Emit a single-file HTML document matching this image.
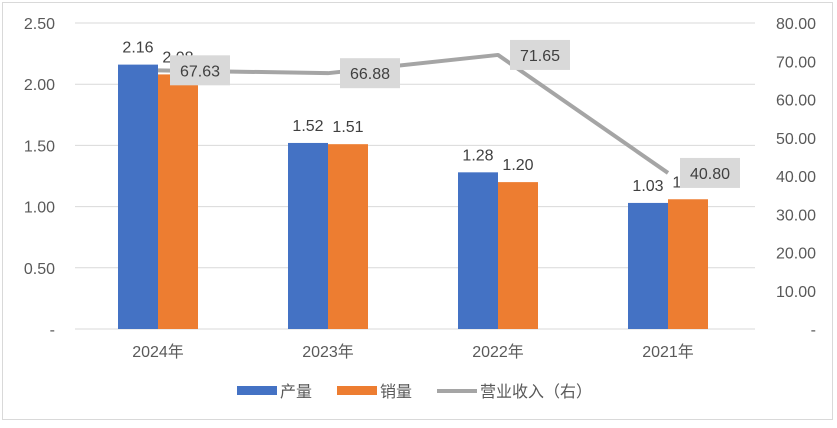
<!DOCTYPE html>
<html><head><meta charset="utf-8"><style>
body{margin:0;background:#fff;font-family:"Liberation Sans","Noto Sans CJK SC",sans-serif}
svg text{font-family:"Liberation Sans","Noto Sans CJK SC",sans-serif;fill:#595959}
</style></head><body>
<svg id="c" width="837" height="423">
<rect x="2.5" y="2.5" width="830" height="417" fill="#fff" stroke="#d9d9d9"/>
</svg>
<script>
const categories=["2024年","2023年","2022年","2021年"];
const production=[2.16,1.52,1.28,1.03];
const sales=[2.08,1.51,1.20,1.06];
const revenue=[67.63,66.88,71.65,40.80];
const leftTicks=[0,0.5,1,1.5,2,2.5];
const rightTicks=[0,10,20,30,40,50,60,70,80];
const svg=document.getElementById('c');
const NS='http://www.w3.org/2000/svg';
const x0=75,x1=755,yTop=23,yBot=329;
const yL=v=>yBot-v/2.5*(yBot-yTop);
const yR=v=>yBot-v/80*(yBot-yTop);
const band=(x1-x0)/categories.length;
const cx=i=>x0+band*(i+0.5)-2;
function mk(t,a,txt){const e=document.createElementNS(NS,t);for(const k in a)e.setAttribute(k,a[k]);if(txt!==undefined)e.textContent=txt;svg.appendChild(e);return e;}
leftTicks.forEach(v=>{
 const g=mk('line',{x1:x0,x2:x1,y1:yL(v),y2:yL(v),stroke:'#d9d9d9','stroke-width':1});
 
 
 const t=mk('text',{x:55,y:yL(v)+6,'text-anchor':'end','font-size':16},v===0?'-':v.toFixed(2));
 
 
});
rightTicks.forEach(v=>{
 const t=mk('text',{x:816,y:yR(v)+6,'text-anchor':'end','font-size':16},v===0?'-':v.toFixed(2));
 
 
});
const bw=40;
categories.forEach((c,i)=>{
 const x=cx(i);
 const b1=mk('rect',{x:x-bw,y:yL(production[i]),width:bw,height:yBot-yL(production[i]),fill:'#4472c4'});
 
 
 const b2=mk('rect',{x:x,y:yL(sales[i]),width:bw,height:yBot-yL(sales[i]),fill:'#ed7d31'});
 
 
 const l1=mk('text',{x:x-bw/2,y:yL(production[i])-12,'text-anchor':'middle','font-size':16,style:'fill:#404040'},production[i].toFixed(2));
 
 
 const l2=mk('text',{x:x+bw/2,y:yL(sales[i])-12,'text-anchor':'middle','font-size':16,style:'fill:#404040'},sales[i].toFixed(2));
 
 
 const ct=mk('text',{x:x,y:357,'text-anchor':'middle','font-size':16},c);
 
 
});
const pts=revenue.map((v,i)=>cx(i)+','+yR(v)).join(' ');
const pl=mk('polyline',{points:pts,fill:'none',stroke:'#a5a5a5','stroke-width':4,'stroke-linejoin':'round'});


revenue.forEach((v,i)=>{
 const x=cx(i)+12,y=yR(v);
 const r=mk('rect',{x:x,y:y-15,width:60,height:30,fill:'#d9d9d9'});
 
 
 const t=mk('text',{x:x+30,y:y+6,'text-anchor':'middle','font-size':16,style:'fill:#404040'},v.toFixed(2));
 
 
});
// legend
const lg=[[237,'产量','#4472c4','rect'],[337,'销量','#ed7d31','rect'],[437,'营业收入（右）','#a5a5a5','line']];
lg.forEach(([x,n,c,k])=>{
 const s=k==='rect'?mk('rect',{x:x,y:386,width:40,height:9,fill:c}):mk('line',{x1:x,x2:x+40,y1:391,y2:391,stroke:c,'stroke-width':4});
 
 
 const t=mk('text',{x:x+43,y:397,'font-size':16},n);
 
 
});
</script>
</body></html>
